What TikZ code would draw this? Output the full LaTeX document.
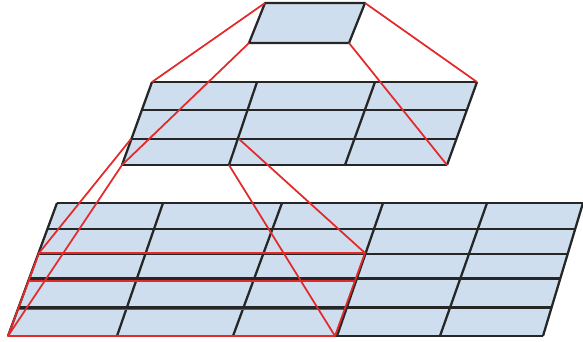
\documentclass[tikz,border=0pt]{standalone}
\usepackage{tikz}
\usetikzlibrary{calc}
\definecolor{cellblue}{RGB}{206,222,238}
\definecolor{windowred}{RGB}{226,42,42}

\begin{document}
\begin{tikzpicture}[x=0.02cm, y=-0.02cm, line join=round,
    gridline/.style={line width=1.3pt, draw=black!85},
    projline/.style={line width=1pt, draw=windowred}]
    \useasboundingbox (0,0) rectangle (583,342);

    % Output unit
    \coordinate (o-tl) at (265,3);
    \coordinate (o-tr) at (365,3);
    \coordinate (o-br) at (349,43);
    \coordinate (o-bl) at (249,43);
    \filldraw[fill=cellblue, gridline] (o-tl) -- (o-tr) -- (o-br) -- (o-bl) -- cycle;

    % Middle layer, 3x3
    \coordinate (m-tl) at (152,82);
    \coordinate (m-tr) at (477,82);
    \coordinate (m-br) at (447,165);
    \coordinate (m-bl) at (122,165);
    \fill[cellblue] (m-tl) -- (m-tr) -- (m-br) -- (m-bl) -- cycle;
    \foreach \t/\b in {152/122, 257/229, 375/345, 477/447}
        \draw[gridline] (\t,82) -- (\b,165);
    \foreach \f in {0, 0.337, 0.687, 1}
        \draw[gridline] ($(m-tl)!\f!(m-bl)$) -- ($(m-tr)!\f!(m-br)$);

    % Input layer, 5x5
    \coordinate (i-tl) at (57,203);
    \coordinate (i-tr) at (583,203);
    \coordinate (i-br) at (543,336);
    \coordinate (i-bl) at (8,336);
    \fill[cellblue] (i-tl) -- (i-tr) -- (i-br) -- (i-bl) -- cycle;
    \foreach \t/\b in {57/8, 163/117, 282/233, 383/337, 487/440, 583/543}
        \draw[gridline] (\t,203) -- (\b,336);
    \foreach \f in {0, 0.195, 0.383, 0.568, 0.785, 1}
        \draw[gridline] ($(i-tl)!\f!(i-bl)$) -- ($(i-tr)!\f!(i-br)$);

    % Receptive field in the middle layer
    \coordinate (m-ctl) at (131,139);
    \coordinate (m-ctr) at (239,139);
    \coordinate (m-cbr) at (229,165);

    % Receptive field in the input layer
    \coordinate (w-tl) at (39,253);
    \coordinate (w-tr) at (365,253);
    \coordinate (w-br) at (335,336);
    \coordinate (w-bl) at (8,336);
    \draw[projline] (w-tl) -- (w-tr) -- (w-br) -- (w-bl) -- cycle;
    \foreach \f in {0.335, 0.68}
        \draw[projline] ($(w-tl)!\f!(w-bl)$) -- ($(w-tr)!\f!(w-br)$);

    % Projection lines
    \draw[projline] (o-tl) -- (m-tl);
    \draw[projline] (o-tr) -- (m-tr);
    \draw[projline] (o-bl) -- (m-bl);
    \draw[projline] (o-br) -- (m-br);
    \draw[projline] (m-ctl) -- (w-tl);
    \draw[projline] (m-ctr) -- (w-tr);
    \draw[projline] (m-bl) -- (w-bl);
    \draw[projline] (m-cbr) -- (w-br);
\end{tikzpicture}
\end{document}
